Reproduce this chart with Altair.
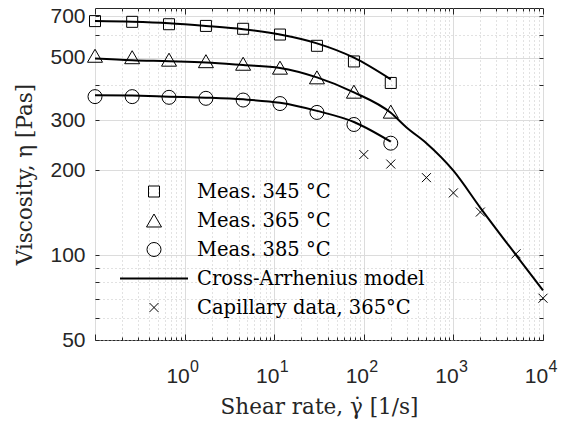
import altair as alt
import pandas as pd

# ---- data ----
shear_meas = [0.1, 0.26, 0.67, 1.73, 4.5, 11.6, 30, 77.6, 200]
visc_345 = [674, 670, 657, 648, 633, 604, 551, 485, 407]
visc_365 = [508, 502, 492, 486, 476, 461, 426, 379, 322]
visc_385 = [364, 364, 362, 359, 354, 344, 320, 290, 249]

model_345 = [674, 670, 662, 648, 631, 604, 562, 500, 419]
model_365 = [497, 490, 486, 481, 471, 460, 426, 377, 319]
shear_tail = [300, 500, 1000, 2000, 5000, 10000]
model_365_tail = [283, 249, 199, 147, 100, 75]
model_385 = [368, 367, 364, 361, 356, 346, 324, 296, 252]

shear_cap = [100, 200, 500, 1000, 2000, 5000, 10000]
visc_cap = [227, 210, 188, 166, 142, 101, 70.3]

series_names = ["Meas. 345 °C", "Meas. 365 °C", "Meas. 385 °C",
                "Cross-Arrhenius model", "Capillary data, 365°C"]
series_shapes = ["square", "triangle-up", "circle", "M-1,0L1,0", "M-1,-1L1,1M-1,1L1,-1"]
series_sizes = [121, 225, 196, 4624, 81]
series_widths = [1, 1, 1, 2, 1]

x_decades = [0.1, 1, 10, 100, 1000, 10000]
x_minor = [m * d for d in [0.1, 1, 10, 100, 1000] for m in range(2, 10)]
y_ticks = [50, 60, 70, 80, 90, 100, 200, 300, 400, 500, 600, 700]
y_labels = [50, 100, 200, 300, 500, 700]

# ---- tables ----
rows = []
for name, vals in zip(series_names[:3], [visc_345, visc_365, visc_385]):
    rows += [{"series": name, "shear": s, "visc": v} for s, v in zip(shear_meas, vals)]
rows += [{"series": series_names[4], "shear": s, "visc": v} for s, v in zip(shear_cap, visc_cap)]
points_df = pd.DataFrame(rows)

lrows = []
for cid, xs, vals in [("345", shear_meas, model_345),
                      ("365", shear_meas + shear_tail, model_365 + model_365_tail),
                      ("385", shear_meas, model_385)]:
    lrows += [{"curve": cid, "shear": s, "visc": v} for s, v in zip(xs, vals)]
line_df = pd.DataFrame(lrows)

X_SCALE = alt.Scale(type="log", domain=[0.1, 10000], nice=False)
Y_SCALE = alt.Scale(type="log", domain=[50, 750], nice=False)

AX_COL = "#262626"
decade = "abs(log(datum.value)/LN10 - round(log(datum.value)/LN10)) < 0.001"
ymajor = "indexof([100,200,300,500,700], datum.value) >= 0"
ylab = "indexof(" + str(y_labels) + ", datum.value) >= 0"

main_x_axis = alt.Axis(
    orient="bottom",
    values=x_decades + x_minor,
    labelExpr=f"({decade}) && datum.value >= 1 ? '10' : ''",
    labelFont="Liberation Sans", labelFontSize=21, labelColor=AX_COL,
    labelAlign="center", labelBaseline="alphabetic", labelPadding=42, labelOffset=-7,
    labelFlush=False, labelOverlap=False,
    ticks=False, tickSize=0, domain=False,
    grid=True,
    gridColor={"condition": {"test": decade, "value": "#dcdcdc"}, "value": "#c4c4c4"},
    gridDash={"condition": {"test": decade, "value": []}, "value": [1, 3]},
    gridWidth=1,
    title="Shear rate, γ̇ [1/s]", titleFont="DejaVu Serif", titleFontSize=21.5,
    titleFontWeight="normal", titleColor=AX_COL, titleBaseline="alphabetic",
    titleY=73, titleX=224, titleAlign="center",
)
exp_x_axis = alt.Axis(
    orient="bottom", values=[1, 10, 100, 1000, 10000],
    labelExpr="'' + round(log(datum.value)/LN10)",
    labelFont="Liberation Sans", labelFontSize=16, labelColor=AX_COL,
    labelAlign="left", labelBaseline="alphabetic", labelPadding=31, labelOffset=5,
    labelFlush=False, labelOverlap=False,
    ticks=False, tickSize=0, domain=False, grid=False, title=None,
)

def tick_axis(orient, vals, size):
    return alt.Axis(orient=orient, values=vals, offset=-size, tickSize=size,
                    ticks=True, tickColor=AX_COL, tickWidth=1, labels=False,
                    domain=False, grid=False, title=None)

main_y_axis = alt.Axis(
    orient="left",
    values=y_ticks,
    labelExpr=f"({ylab}) ? datum.value : ''",
    labelFont="Liberation Sans", labelFontSize=21, labelColor=AX_COL,
    labelAlign="right", labelBaseline="middle", labelPadding=10,
    labelOverlap=False, labelFlush=False,
    ticks=False, tickSize=0, domain=False,
    grid=True,
    gridColor={"condition": {"test": ymajor, "value": "#dcdcdc"}, "value": "#c4c4c4"},
    gridDash={"condition": {"test": ymajor, "value": []}, "value": [1, 3]},
    gridWidth=1,
    title="Viscosity, η [Pas]", titleFont="DejaVu Serif", titleFontSize=21.5,
    titleFontWeight="normal", titleColor=AX_COL, titleAngle=270,
    titleBaseline="middle", titleAlign="center", titleX=-70, titleY=166,
)

leg = alt.Legend(orient="none", legendX=24, legendY=170, title=None, padding=0,
                 clipHeight=27, rowPadding=2, labelOffset=8, symbolOffset=0,
                 labelFont="DejaVu Serif", labelFontSize=19.5, labelColor="black",
                 labelLimit=0, symbolStrokeColor="black", symbolFillColor="transparent")

pts = alt.Chart(points_df).mark_point(filled=False, color="black", opacity=1).encode(
    x=alt.X("shear:Q", scale=X_SCALE, axis=main_x_axis),
    y=alt.Y("visc:Q", scale=Y_SCALE, axis=main_y_axis),
    shape=alt.Shape("series:N", scale=alt.Scale(domain=series_names, range=series_shapes), legend=leg),
    size=alt.Size("series:N", scale=alt.Scale(type="ordinal", domain=series_names, range=series_sizes), legend=leg),
    strokeWidth=alt.StrokeWidth("series:N", scale=alt.Scale(type="ordinal", domain=series_names, range=series_widths), legend=leg),
)

lines = alt.Chart(line_df).mark_line(color="black", strokeWidth=2, interpolate="monotone").encode(
    x=alt.X("shear:Q", scale=X_SCALE, axis=exp_x_axis),
    y=alt.Y("visc:Q", scale=Y_SCALE, axis=tick_axis("left", y_ticks, 4)),
    detail="curve:N",
)

def dummy(xaxis, yaxis):
    return alt.Chart(points_df).mark_point(opacity=0).encode(
        x=alt.X("shear:Q", scale=X_SCALE, axis=xaxis),
        y=alt.Y("visc:Q", scale=Y_SCALE, axis=yaxis),
    )

d1 = dummy(tick_axis("bottom", x_decades, 6), tick_axis("right", y_ticks, 4))
d2 = dummy(tick_axis("bottom", x_minor, 3), None)
d3 = dummy(tick_axis("top", x_decades, 6), None)
d4 = dummy(tick_axis("top", x_minor, 3), None)

chart = alt.layer(lines, pts, d1, d2, d3, d4).resolve_axis(
    x="independent", y="independent"
).properties(
    width=448, height=332,
    autosize=alt.AutoSizeParams(type="none"),
    padding={"left": 95, "top": 8, "right": 19, "bottom": 81},
    background="white",
).configure_view(stroke=AX_COL, strokeWidth=1)

chart.save("out.html", embed_options={"renderer": "svg", "actions": False})
